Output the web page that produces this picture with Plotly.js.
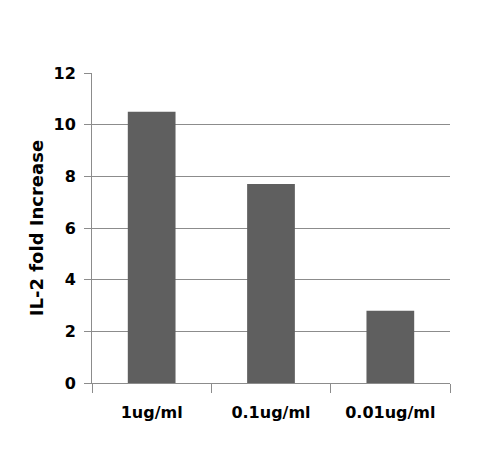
<!DOCTYPE html>
<html>
<head>
<meta charset="utf-8">
<script src="https://cdn.plot.ly/plotly-3.0.1.min.js"></script>
<style>
  html, body { margin: 0; padding: 0; background: #fff; }
  #chart { width: 482px; height: 455px; }
</style>
</head>
<body>
<div id="chart"></div>
<script>
const categories = ['1ug/ml', '0.1ug/ml', '0.01ug/ml'];
const foldIncrease = [10.5, 7.7, 2.8];
const yTicks = [0, 2, 4, 6, 8, 10, 12];

const labelFont = { family: 'DejaVu Sans', size: 16, weight: 'bold', color: '#000' };

Plotly.newPlot('chart', [
  {
    x: categories,
    y: foldIncrease,
    type: 'bar',
    width: 0.4,
    marker: { color: '#5f5f5f', line: { width: 0 } },
    hoverinfo: 'skip'
  }
], {
  width: 482,
  height: 455,
  margin: { l: 92, r: 32, t: 73, b: 72 },
  paper_bgcolor: '#fff',
  plot_bgcolor: '#fff',
  showlegend: false,
  font: labelFont,
  xaxis: {
    type: 'category',
    tickson: 'boundaries',
    ticks: 'outside',
    ticklen: 9,
    tickcolor: '#8c8c8c',
    tickwidth: 1,
    showline: true,
    linecolor: '#8c8c8c',
    linewidth: 1,
    showgrid: false,
    ticklabelstandoff: 15,
    tickfont: labelFont
  },
  yaxis: {
    range: [0, 12],
    tickvals: yTicks,
    ticktext: yTicks.map(String),
    ticks: 'outside',
    ticklen: 7,
    tickcolor: '#8c8c8c',
    showline: true,
    linecolor: '#8c8c8c',
    linewidth: 1,
    showgrid: true,
    gridcolor: '#8c8c8c',
    gridwidth: 1,
    zeroline: false,
    ticklabelstandoff: 5,
    tickfont: labelFont,
    title: {
      text: 'IL-2 fold Increase',
      standoff: 5,
      font: { family: 'DejaVu Sans', size: 18, weight: 'bold', color: '#000' }
    }
  }
}, { displayModeBar: false, staticPlot: true });
</script>
</body>
</html>
